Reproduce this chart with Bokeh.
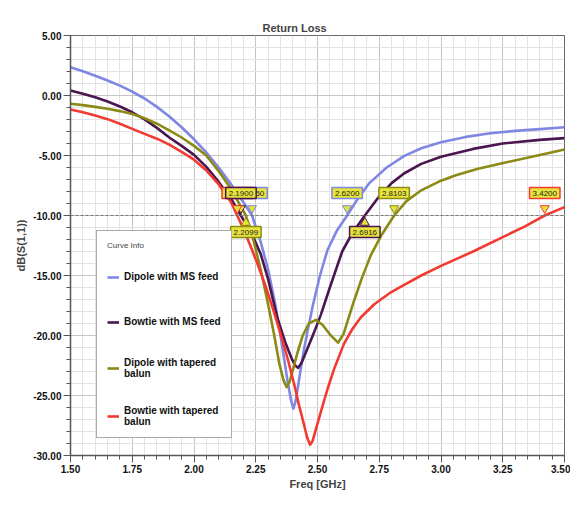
import numpy as np
from math import pi
from bokeh.plotting import figure
from bokeh.models import (SingleIntervalTicker, NumeralTickFormatter, Span, Label,
                          Legend, LegendItem, Range1d)
from bokeh.embed import file_html
from bokeh.resources import INLINE

# ---------------- data ----------------
freq_dipole_ms = [1.50, 1.55, 1.60, 1.65, 1.70, 1.75, 1.80, 1.85, 1.90, 1.95, 2.00, 2.05, 2.10,
                  2.15, 2.20, 2.235, 2.27, 2.30, 2.33, 2.355, 2.378, 2.392, 2.402, 2.41, 2.42,
                  2.432, 2.445, 2.46, 2.48, 2.51, 2.54, 2.58, 2.62, 2.66, 2.71, 2.78, 2.85,
                  2.92, 3.00, 3.10, 3.20, 3.30, 3.40, 3.50]
db_dipole_ms = [2.36, 2.02, 1.65, 1.25, 0.82, 0.32, -0.25, -0.95, -1.75, -2.65, -3.65, -4.75, -6.0,
                -7.4, -8.9, -10.0, -12.2, -14.5, -17.5, -20.6, -23.7, -25.3, -26.1, -25.6, -24.4,
                -22.8, -21.2, -19.6, -17.6, -15.0, -12.9, -11.2, -10.0, -8.7, -7.3, -6.0, -5.05,
                -4.4, -3.9, -3.45, -3.15, -2.95, -2.8, -2.65]

freq_bowtie_ms = [1.50, 1.55, 1.60, 1.65, 1.70, 1.75, 1.80, 1.85, 1.90, 1.95, 2.00, 2.05, 2.10,
                  2.15, 2.19, 2.24, 2.27, 2.30, 2.337, 2.37, 2.395, 2.41, 2.421, 2.435, 2.459,
                  2.485, 2.513, 2.55, 2.60, 2.64, 2.6916, 2.75, 2.80, 2.85, 2.92, 3.00, 3.13,
                  3.25, 3.40, 3.50]
db_bowtie_ms = [0.42, 0.15, -0.15, -0.5, -0.92, -1.4, -2.0, -2.7, -3.5, -4.2, -4.95, -5.95, -7.2,
                -8.6, -10.0, -11.8, -13.2, -15.3, -18.5, -20.6, -21.9, -22.5, -22.7, -22.3, -21.1,
                -19.8, -18.3, -16.0, -13.0, -11.5, -10.0, -8.4, -7.3, -6.5, -5.7, -5.1, -4.45,
                -4.0, -3.7, -3.55]

freq_dipole_tb = [1.50, 1.55, 1.60, 1.65, 1.70, 1.75, 1.80, 1.85, 1.90, 1.95, 2.00, 2.05, 2.10,
                  2.15, 2.2099, 2.24, 2.27, 2.30, 2.324, 2.345, 2.362, 2.375, 2.388, 2.40, 2.418,
                  2.44, 2.465, 2.493, 2.52, 2.55, 2.583, 2.605, 2.625, 2.648, 2.68, 2.716, 2.76,
                  2.8103, 2.86, 2.92, 3.00, 3.06, 3.15, 3.27, 3.40, 3.50]
db_dipole_tb = [-0.69, -0.8, -0.95, -1.1, -1.3, -1.55, -1.9, -2.35, -2.9, -3.5, -4.2, -5.0, -6.3,
                -7.8, -10.0, -12.0, -14.5, -17.4, -19.9, -22.3, -23.7, -24.3, -23.8, -22.9, -21.5,
                -20.0, -19.0, -18.7, -19.1, -19.9, -20.6, -19.9, -18.6, -17.1, -15.2, -13.3, -11.6,
                -10.0, -8.8, -7.9, -7.1, -6.65, -6.1, -5.55, -4.95, -4.5]

freq_bowtie_tb = [1.50, 1.55, 1.60, 1.65, 1.70, 1.75, 1.80, 1.85, 1.90, 1.95, 2.00, 2.05, 2.10,
                  2.15, 2.175, 2.20, 2.23, 2.26, 2.29, 2.32, 2.351, 2.38, 2.405, 2.425, 2.445,
                  2.458, 2.47, 2.48, 2.495, 2.513, 2.54, 2.567, 2.607, 2.64, 2.675, 2.73, 2.797,
                  2.84, 2.92, 3.00, 3.13, 3.25, 3.34, 3.42, 3.50]
db_bowtie_tb = [-1.17, -1.4, -1.67, -1.97, -2.35, -2.78, -3.2, -3.6, -4.1, -4.7, -5.35, -6.25, -7.4,
                -8.9, -10.0, -11.1, -12.6, -14.2, -15.9, -17.8, -19.9, -22.0, -24.0, -25.8, -27.4,
                -28.5, -29.1, -28.8, -27.7, -26.4, -24.5, -22.8, -20.7, -19.5, -18.5, -17.4, -16.4,
                -15.9, -15.0, -14.2, -13.0, -11.8, -10.9, -10.0, -9.3]

series_names = ["Dipole with MS feed", "Bowtie with MS feed",
                "Dipole with tapered\nbalun", "Bowtie with tapered\nbalun"]
series_colors = ["#7f87e2", "#4a1650", "#8a8a14", "#f23a30"]

threshold = -10.0
threshold_marker_text = "-10.0288"
marker_freqs = [2.2350, 2.1900, 2.2099, 2.1750, 2.6200, 2.6916, 2.8103, 3.4200]
marker_texts = ["2.2350", "2.1900", "2.2099", "2.1750", "2.6200", "2.6916", "2.8103", "3.4200"]
marker_series = [0, 1, 2, 3, 0, 1, 2, 3]
marker_above = [True, True, False, True, True, False, True, True]

x_start, x_end = 1.50, 3.50
y_start, y_end = -30.0, 5.0

# ---------------- figure ----------------
p = figure(width=570, height=505, output_backend="svg", toolbar_location=None,
           x_range=Range1d(x_start, x_end), y_range=Range1d(y_start, y_end),
           min_border_left=70, min_border_right=6, min_border_top=35, min_border_bottom=50,
           background_fill_color="white", border_fill_color="white")

FONT = "Liberation Sans"

p.title.text = "Return Loss"
p.title.align = "left"
p.title.offset = 192
p.title.text_font = FONT
p.title.text_font_size = "11px"
p.title.text_font_style = "bold"
p.title.standoff = 3

p.outline_line_color = "#6a6a6a"
p.outline_line_width = 1

for ax in (p.xaxis[0], p.yaxis[0]):
    ax.major_label_text_font = FONT
    ax.major_label_text_font_size = "10px"
    ax.major_label_text_font_style = "bold"
    ax.major_label_text_color = "#111111"
    ax.axis_line_color = "#555555"
    ax.axis_line_width = 1.5
    ax.major_tick_line_color = "#555555"
    ax.minor_tick_line_color = "#555555"
    ax.major_tick_in = 0
    ax.minor_tick_in = 0
    ax.major_tick_out = 7
    ax.minor_tick_out = 4
    ax.formatter = NumeralTickFormatter(format="0.00")

p.xaxis.ticker = SingleIntervalTicker(interval=0.25, num_minor_ticks=5)
p.yaxis.ticker = SingleIntervalTicker(interval=5, num_minor_ticks=5)
p.xaxis.major_label_standoff = 2
p.yaxis.major_label_standoff = 2

p.xaxis.axis_label = "Freq [GHz]"
p.xaxis.axis_label_text_font = FONT
p.xaxis.axis_label_text_font_size = "11px"
p.xaxis.axis_label_text_font_style = "bold"
p.xaxis.axis_label_standoff = 2
p.yaxis.axis_label = "dB(S(1,1))"
p.yaxis.axis_label_text_font = FONT
p.yaxis.axis_label_text_font_size = "11px"
p.yaxis.axis_label_text_font_style = "bold"
p.yaxis.axis_label_standoff = 3

for g in (p.xgrid[0], p.ygrid[0]):
    g.grid_line_color = "#c4c4c4"
    g.grid_line_width = 1
    g.minor_grid_line_color = "#e3e3e3"
    g.minor_grid_line_width = 1

# threshold dashed line
p.add_layout(Span(location=threshold, dimension="width", line_color="#777777",
                  line_dash="3 2", line_width=1.2))

freqs = [freq_dipole_ms, freq_bowtie_ms, freq_dipole_tb, freq_bowtie_tb]
dbs = [db_dipole_ms, db_bowtie_ms, db_dipole_tb, db_bowtie_tb]
renderers = []
for f, d, c in zip(freqs, dbs, series_colors):
    r = p.line(f, d, line_color=c, line_width=2.6, line_join="round")
    renderers.append(r)

# marker pointers and boxes
for fm, si, above in zip(marker_freqs, marker_series, marker_above):
    c = series_colors[si]
    p.scatter([fm], [threshold + (0.6 if above else -0.6)],
              marker="inverted_triangle" if above else "triangle", size=9,
              fill_color="#e6e33a", line_color=c, line_width=1)
order = [3, 0, 1, 2, 4, 5, 6, 7]
for i in order:
    fm, tx, si, above = marker_freqs[i], marker_texts[i], marker_series[i], marker_above[i]
    c = series_colors[si]
    p.add_layout(Label(x=fm, y=threshold, text=tx, text_align="center",
                       text_baseline="bottom" if above else "top",
                       y_offset=17 if above else -11,
                       text_font=FONT, text_font_size="8px", text_color="#222222",
                       background_fill_color="#e6e33a", background_fill_alpha=1.0,
                       border_line_color=c, border_line_width=1.5, padding=3))

p.add_layout(Label(x=x_start, y=threshold, x_offset=-53, angle=pi / 2, text=threshold_marker_text,
                   text_align="center", text_baseline="middle", text_font=FONT,
                   text_font_size="8px", text_color="#222222",
                   background_fill_color="#e6e33a", background_fill_alpha=1.0,
                   border_line_color="#b8b020", border_line_width=1, padding=3))

p.add_layout(Label(x=x_end, y=y_end, x_offset=-13, y_offset=18, text="HFSSDesign1",
                   text_align="right", text_baseline="middle", text_font=FONT,
                   text_font_size="9px", text_color="#222222"))
p.add_layout(Label(x=x_end, y=y_end, x_offset=-3, y_offset=19, text="▲",
                   text_align="right", text_baseline="middle",
                   text_font_size="7px", text_color="#e04040"))

legend = Legend(items=[LegendItem(label=n, renderers=[r]) for n, r in zip(series_names, renderers)],
                location=(26, 17), title="Curve Info")
legend.title_text_font = FONT
legend.title_text_font_size = "8px"
legend.title_text_font_style = "normal"
legend.title_standoff = 17
legend.label_text_font = FONT
legend.label_text_font_size = "10px"
legend.label_text_font_style = "bold"
legend.label_text_color = "#111111"
legend.label_text_line_height = 1.7
legend.glyph_width = 12
legend.glyph_height = 12
legend.label_standoff = 5
legend.label_height = 19
legend.spacing = 26
legend.padding = 10
legend.margin = 0
legend.border_line_color = "#555555"
legend.border_line_width = 1
legend.background_fill_color = "white"
legend.background_fill_alpha = 1.0
p.add_layout(legend)

open("out.html", "w").write(file_html(p, INLINE))
